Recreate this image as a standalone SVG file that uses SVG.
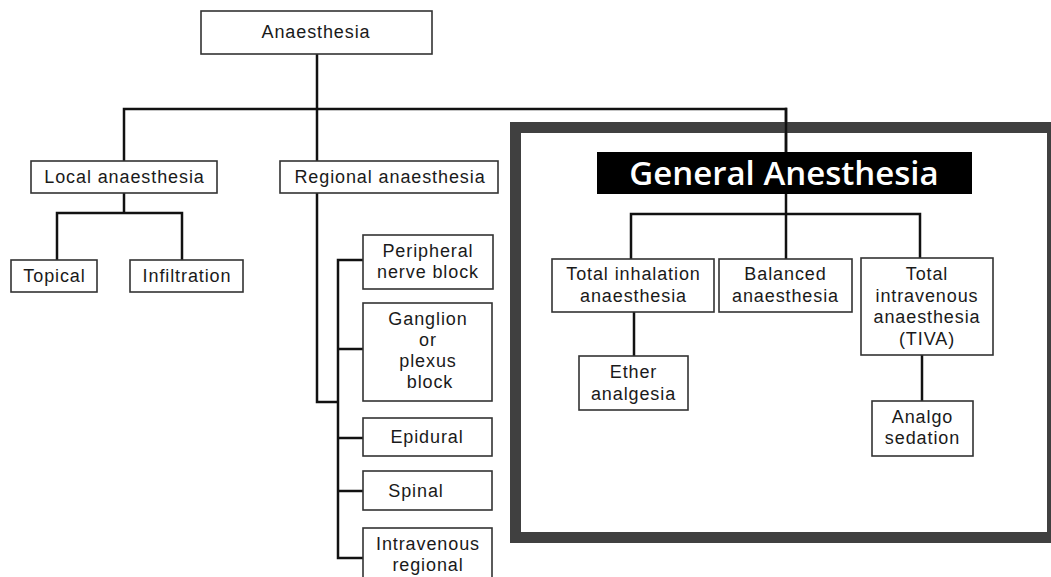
<svg xmlns="http://www.w3.org/2000/svg" width="1051" height="577" viewBox="0 0 1051 577">
<style>
.box{fill:#fff;stroke:#333;stroke-width:1.6}
.t{font-family:"Liberation Sans",Arial,sans-serif;font-size:18px;letter-spacing:0.9px;fill:#1a1a1a;text-anchor:middle}
.c{fill:none;stroke:#111;stroke-width:2.5;stroke-linecap:square}
.ga{font-family:"Open Sans","DejaVu Sans",sans-serif;font-weight:600;font-size:33px;fill:#fff;text-anchor:middle}
</style>
<rect x="0" y="0" width="1051" height="577" fill="#fff"/>
<g id="connectors">
<path class="c" d="M317 54V161M124 161V109H786V152"/>
<path class="c" d="M124 193V213M57 260V213H182V260"/>
<path class="c" d="M317 193V402H338M338 260V558M338 260H363M338 349H363M338 438H363M338 491H363M338 558H363"/>
<path class="c" d="M786 194V259M631 259V214H920V258"/>
<path class="c" d="M634 312V356M922 355V401"/>
</g>
<g id="general-frame">
<rect x="515.5" y="127.5" width="537" height="410" fill="none" stroke="#404040" stroke-width="11"/>
</g>
<path class="c" d="M786 109V152"/>
<g id="anaesthesia"><rect class="box" x="201" y="11" width="231" height="43"/><text class="t" x="316" y="38">Anaesthesia</text></g>
<g id="local"><rect class="box" x="31" y="161" width="186" height="32"/><text class="t" x="124.5" y="183">Local anaesthesia</text></g>
<g id="regional"><rect class="box" x="280" y="161" width="218" height="32"/><text class="t" x="390" y="183">Regional anaesthesia</text></g>
<g id="topical"><rect class="box" x="11" y="260" width="86" height="32"/><text class="t" x="54.5" y="282">Topical</text></g>
<g id="infiltration"><rect class="box" x="130" y="260" width="113" height="32"/><text class="t" x="187" y="282">Infiltration</text></g>
<g id="peripheral"><rect class="box" x="363" y="235" width="130" height="54"/><text class="t" x="428" y="257">Peripheral</text><text class="t" x="428" y="278">nerve block</text></g>
<g id="ganglion"><rect class="box" x="363" y="303" width="129" height="98"/><text class="t" x="428" y="325">Ganglion</text><text class="t" x="428" y="346">or</text><text class="t" x="428" y="367">plexus</text><text class="t" x="430" y="388">block</text></g>
<g id="epidural"><rect class="box" x="363" y="418" width="129" height="38"/><text class="t" x="427" y="443">Epidural</text></g>
<g id="spinal"><rect class="box" x="363" y="471" width="129" height="39"/><text class="t" x="416" y="497">Spinal</text></g>
<g id="intravenous-regional"><rect class="box" x="363" y="528" width="129" height="60"/><text class="t" x="428" y="550">Intravenous</text><text class="t" x="428" y="571">regional</text></g>
<g id="general"><rect x="597" y="152" width="375" height="42" fill="#000"/><text class="ga" x="784" y="185">General Anesthesia</text></g>
<g id="total-inhalation"><rect class="box" x="552" y="259" width="162" height="53"/><text class="t" x="633.5" y="280">Total inhalation</text><text class="t" x="633.5" y="302">anaesthesia</text></g>
<g id="balanced"><rect class="box" x="719" y="259" width="133" height="53"/><text class="t" x="785.5" y="280">Balanced</text><text class="t" x="785.5" y="302">anaesthesia</text></g>
<g id="tiva"><rect class="box" x="861" y="258" width="132" height="97"/><text class="t" x="927" y="280">Total</text><text class="t" x="927" y="302">intravenous</text><text class="t" x="927" y="323">anaesthesia</text><text class="t" x="927" y="345">(TIVA)</text></g>
<g id="ether"><rect class="box" x="579" y="356" width="109" height="54"/><text class="t" x="633.5" y="378">Ether</text><text class="t" x="633.5" y="400">analgesia</text></g>
<g id="analgo"><rect class="box" x="872" y="401" width="101" height="55"/><text class="t" x="922.5" y="423">Analgo</text><text class="t" x="922.5" y="444">sedation</text></g>
</svg>
